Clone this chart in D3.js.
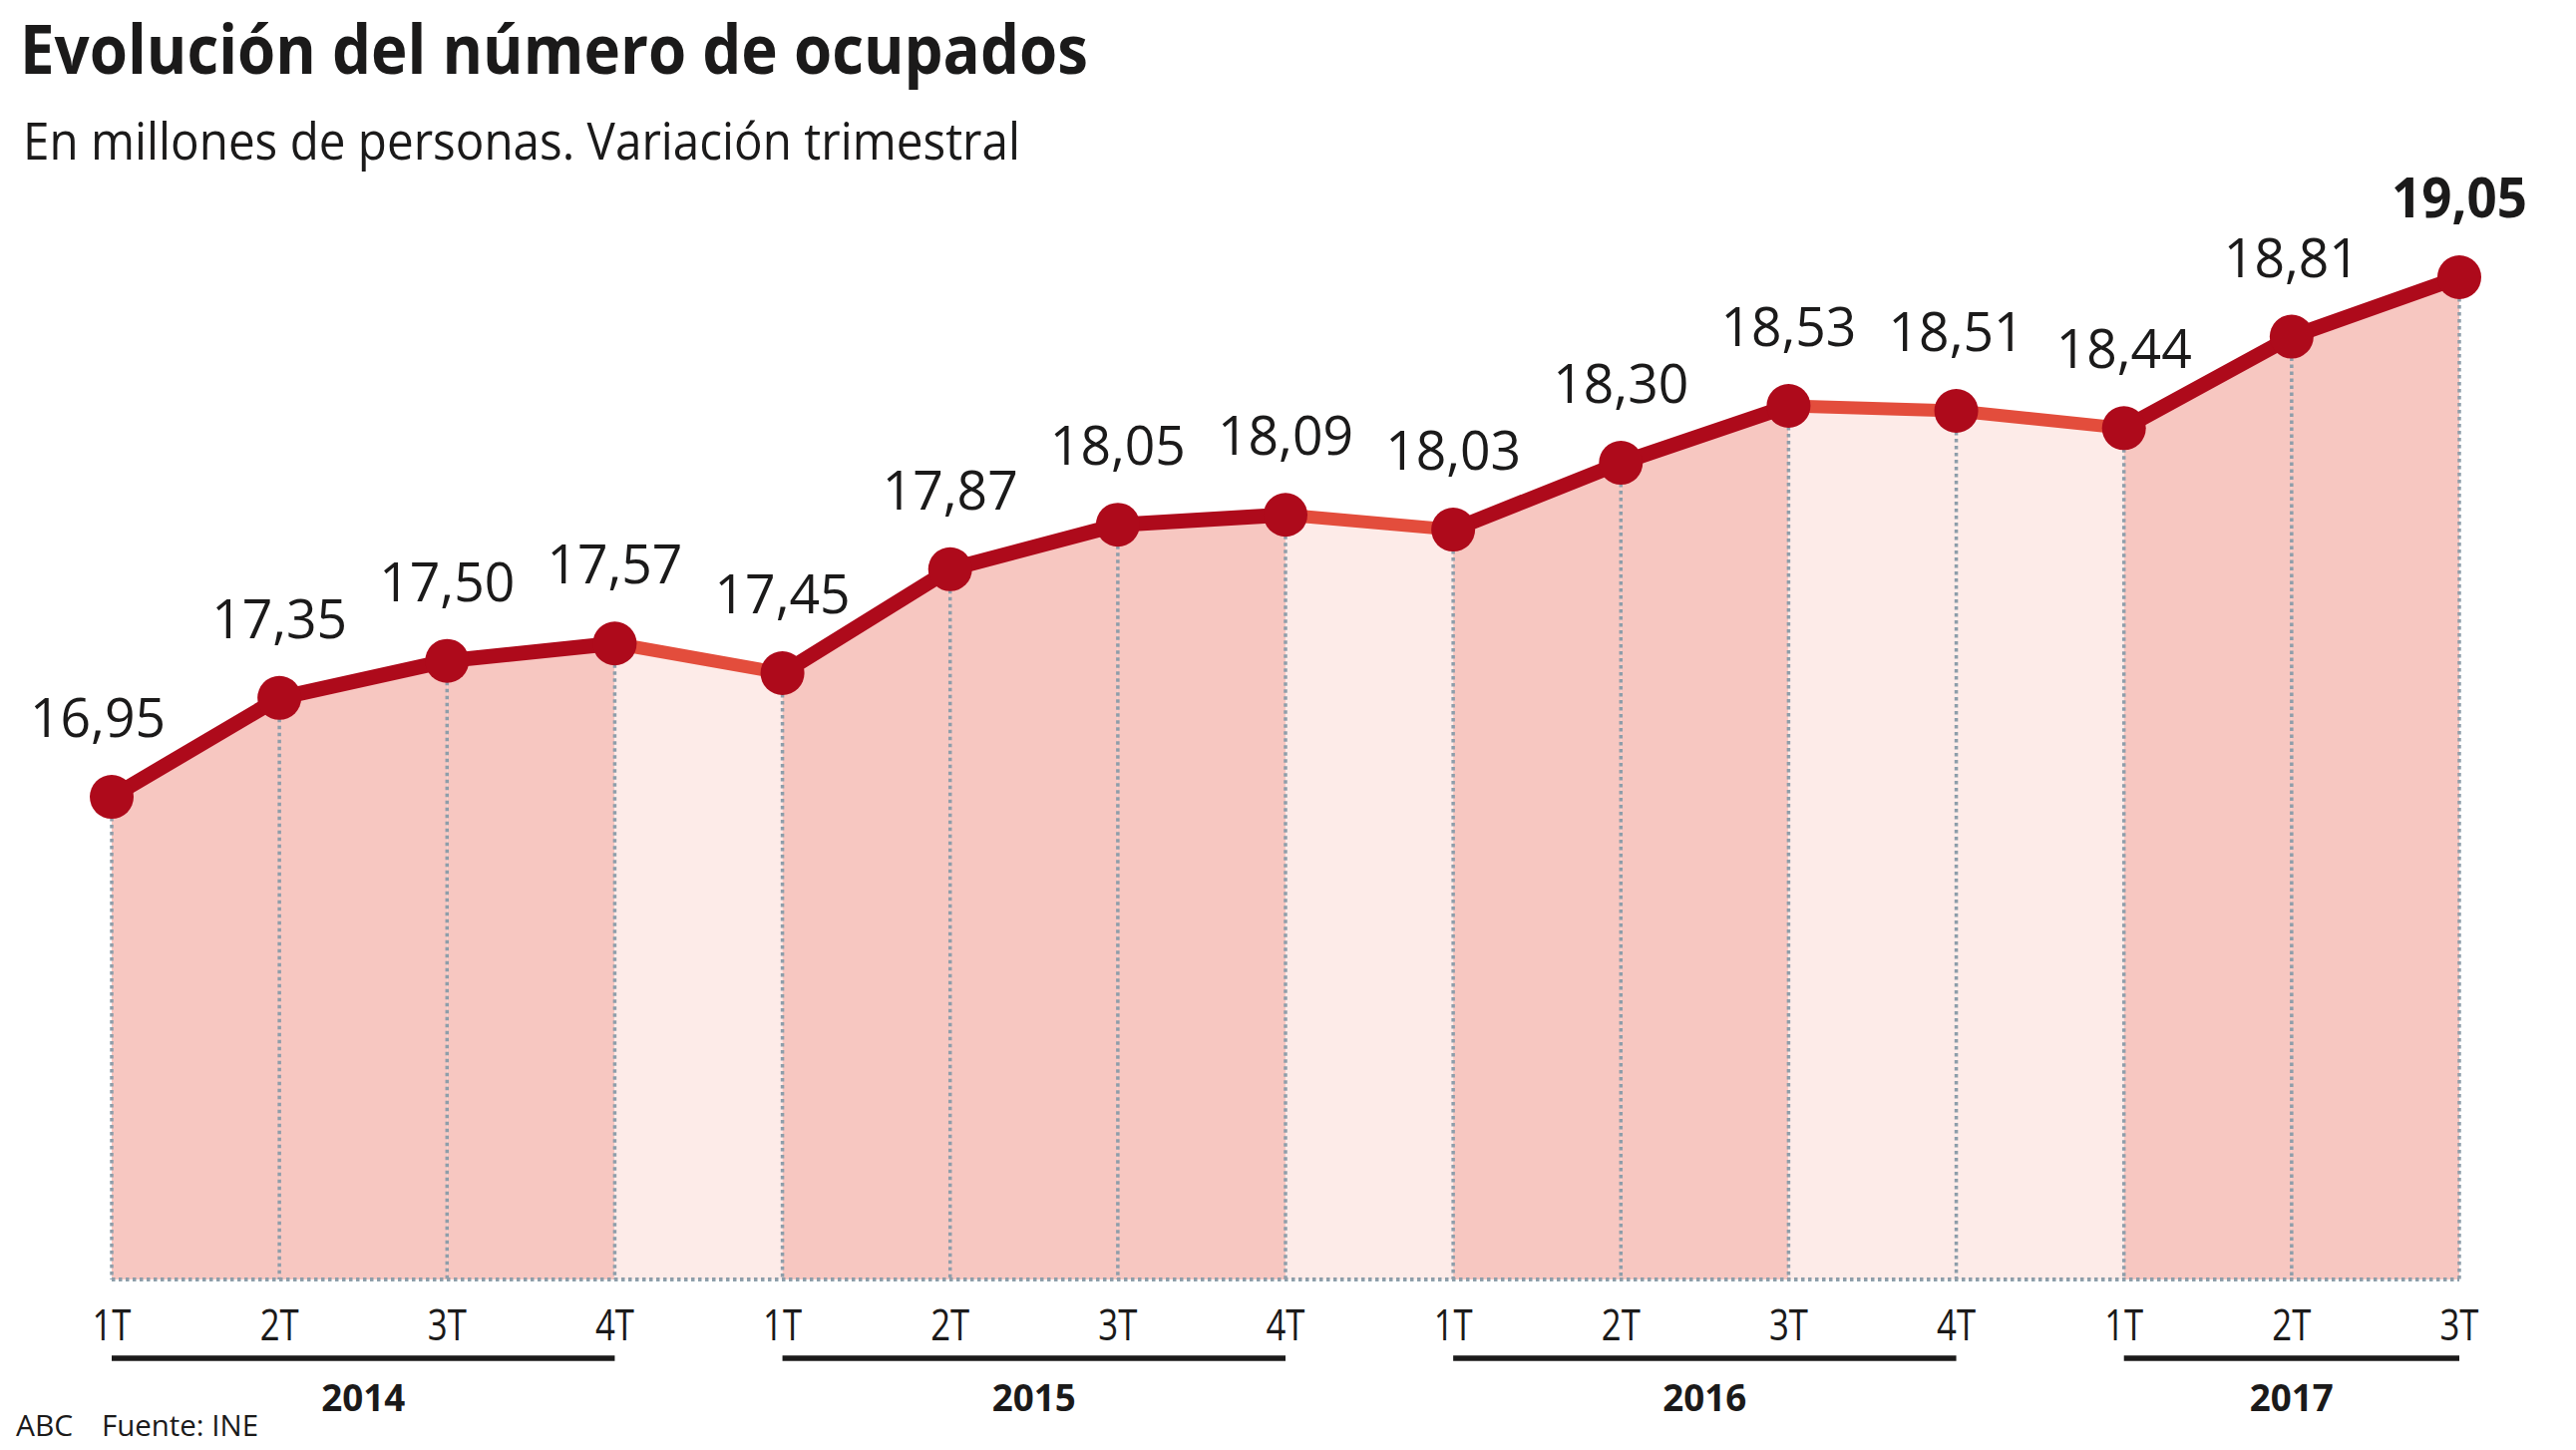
<!DOCTYPE html>
<html><head><meta charset="utf-8">
<script src="https://cdn.jsdelivr.net/npm/d3@7"></script>
<style>html,body{margin:0;padding:0;background:#fff}</style>
</head><body><svg id="chart"></svg>
<script>
const quarters = ["1T","2T","3T","4T","1T","2T","3T","4T","1T","2T","3T","4T","1T","2T","3T"];
const years = ["2014","2014","2014","2014","2015","2015","2015","2015","2016","2016","2016","2016","2017","2017","2017"];
const values = [16.95,17.35,17.50,17.57,17.45,17.87,18.05,18.09,18.03,18.30,18.53,18.51,18.44,18.81,19.05];
const titleText = "Evolución del número de ocupados";
const subtitleText = "En millones de personas. Variación trimestral";
const sourceTexts = ["ABC","Fuente: INE"];

const W = 2583, H = 1454;
const FONT = "'Open Sans', 'Noto Sans', sans-serif";
const INK = "#1b1a1a";
const svg = d3.select("#chart").attr("width", W).attr("height", H)
  .style("font-family", FONT);

const idx = d3.range(values.length);
const yMin = 15;
const x = d3.scalePoint().domain(idx).range([112, 2466]);
const y = d3.scaleLinear().domain([yMin, 19.05]).range([1283, 278]);
const fmt = d3.formatLocale({decimal: ",", thousands: ".", grouping: [3], currency: ["", "€"]}).format(".2f");

function fit(sel, w) {
  sel.each(function() {
    const n = this.getComputedTextLength();
    if (n > w) d3.select(this).attr("textLength", w).attr("lengthAdjust", "spacingAndGlyphs");
  });
}

// Title & subtitle
svg.append("text").attr("x", 20).attr("y", 74).attr("font-size", 68).attr("font-weight", 700)
  .attr("fill", INK).text(titleText).call(fit, 1071);
svg.append("text").attr("x", 23).attr("y", 160).attr("font-size", 51)
  .attr("fill", INK).text(subtitleText).call(fit, 1000);

const up = "#f7c7c1", down = "#fdebe8";
const lineUp = "#ae0a1b", lineDown = "#e34d3c";
const segs = d3.pairs(idx);

// fills
const area = d3.area().x(i => x(i)).y0(y(yMin)).y1(i => y(values[i]));
svg.append("g").selectAll("path").data(segs).join("path")
  .attr("d", d => area(d))
  .attr("fill", d => values[d[1]] >= values[d[0]] ? up : down);

// dotted verticals
const grid = "#8e9eaa";
svg.append("g").selectAll("line").data(idx).join("line")
  .attr("x1", i => x(i)).attr("x2", i => x(i))
  .attr("y1", i => y(values[i])).attr("y2", y(yMin))
  .attr("stroke", grid).attr("stroke-width", 3.5).attr("stroke-dasharray", "3.5 3.5");
svg.append("line").attr("x1", x(0)).attr("x2", x(idx.length - 1))
  .attr("y1", y(yMin)).attr("y2", y(yMin))
  .attr("stroke", grid).attr("stroke-width", 4).attr("stroke-dasharray", "3.5 3.5");

// line segments
const lineGen = d3.line().x(i => x(i)).y(i => y(values[i]));
const segSorted = segs.slice().sort((a, b) => (values[a[1]] >= values[a[0]]) - (values[b[1]] >= values[b[0]]));
svg.append("g").selectAll("path").data(segSorted).join("path")
  .attr("d", d => lineGen(d)).attr("fill", "none")
  .attr("stroke", d => values[d[1]] >= values[d[0]] ? lineUp : lineDown)
  .attr("stroke-width", d => values[d[1]] >= values[d[0]] ? 15 : 13)
  .attr("stroke-linecap", "round");

// dots
svg.append("g").selectAll("circle").data(idx).join("circle")
  .attr("cx", i => x(i)).attr("cy", i => y(values[i])).attr("r", 22)
  .attr("fill", lineUp);

// value labels
svg.append("g").selectAll("text").data(idx).join("text")
  .attr("x", i => x(i) - (i === 0 ? 14 : 0)).attr("y", i => y(values[i]) - 60)
  .attr("text-anchor", "middle")
  .attr("font-size", i => i === idx.length - 1 ? 56 : 55)
  .attr("font-weight", i => i === idx.length - 1 ? 700 : 400)
  .attr("fill", INK)
  .text(i => fmt(values[i]))
  .call(fit, 136);

// quarter tick labels
svg.append("g").selectAll("text").data(idx).join("text")
  .attr("x", i => x(i)).attr("y", 1344).attr("text-anchor", "middle")
  .attr("font-size", 43).attr("fill", INK).text(i => quarters[i]).call(fit, 39);

// year groups
const groups = d3.groups(idx, i => years[i]);
const yg = svg.append("g");
groups.forEach(([yr, is]) => {
  const a = x(is[0]), b = x(is[is.length - 1]);
  yg.append("line").attr("x1", a).attr("x2", b).attr("y1", 1362).attr("y2", 1362)
    .attr("stroke", INK).attr("stroke-width", 5.5);
  yg.append("text").attr("x", (a + b) / 2).attr("y", 1415).attr("text-anchor", "middle")
    .attr("font-size", 38).attr("font-weight", 700).attr("fill", INK).text(yr).call(fit, 84);
});

// footer
svg.append("text").attr("x", 16).attr("y", 1440).attr("font-size", 30).attr("fill", INK)
  .text(sourceTexts[0]).call(fit, 58);
svg.append("text").attr("x", 102).attr("y", 1440).attr("font-size", 30).attr("fill", INK)
  .text(sourceTexts[1]).call(fit, 157);
</script></body></html>
